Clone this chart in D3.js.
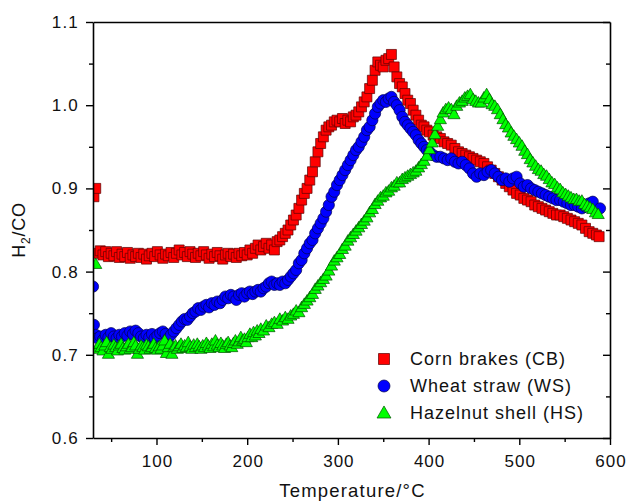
<!DOCTYPE html>
<html>
<head>
<meta charset="utf-8">
<script src="https://cdn.jsdelivr.net/npm/d3@7"></script>
<style>
  html, body { margin: 0; padding: 0; background: #fff; }
  svg { display: block; font-family: "Liberation Sans", Arial, Helvetica, sans-serif; }
</style>
</head>
<body>
<svg id="chart" width="628" height="503"></svg>
<script>
// ---- Data ----
const xTicks = [100, 200, 300, 400, 500, 600];
const yTicks = [0.6, 0.7, 0.8, 0.9, 1.0, 1.1];
const seriesNames = ["Corn brakes (CB)", "Wheat straw (WS)", "Hazelnut shell (HS)"];

const cbTemp = [31,33,35,38,41,44,47,50,53,56,59,62,65,68,71,74,77,80,83,86,89,92,95,98,101,104,107,110,113,116,119,122,125,128,131,134,137,140,143,146,149,152,155,158,161,164,167,170,173,176,179,182,185,188,191,194,197,200,203,206,209,212,215,218,221,224,227,230,233,236,239,242,245,248,251,254,257,260,263,266,269,272,275,278,281,284,287,290,293,296,299,302,305,308,311,314,317,320,323,326,329,332,335,338,341,344,347,350,353,356,359,362,365,368,371,374,377,380,383,386,389,392,395,398,401,405,409,413,417,421,425,429,433,437,441,445,449,453,457,461,465,469,473,477,481,485,489,493,497,501,505,509,513,517,521,525,529,533,537,541,545,549,553,557,561,565,569,573,577,581,585,588];
const cbVal = [0.890,0.900,0.822,0.825,0.820,0.824,0.818,0.822,0.819,0.824,0.817,0.821,0.818,0.823,0.816,0.820,0.818,0.822,0.817,0.821,0.815,0.819,0.822,0.818,0.824,0.820,0.816,0.821,0.819,0.823,0.817,0.822,0.826,0.820,0.823,0.818,0.824,0.821,0.817,0.822,0.819,0.824,0.820,0.816,0.821,0.818,0.823,0.819,0.815,0.820,0.822,0.818,0.821,0.817,0.822,0.819,0.823,0.820,0.826,0.822,0.828,0.832,0.826,0.830,0.834,0.828,0.832,0.826,0.836,0.838,0.842,0.846,0.850,0.856,0.862,0.868,0.876,0.886,0.894,0.900,0.910,0.920,0.932,0.944,0.954,0.962,0.970,0.974,0.976,0.980,0.982,0.980,0.984,0.978,0.982,0.980,0.986,0.988,0.992,0.998,1.004,1.010,1.020,1.030,1.042,1.052,1.048,1.046,1.054,1.056,1.061,1.046,1.034,1.026,1.022,1.014,1.006,1.002,0.994,0.988,0.982,0.976,0.974,0.970,0.968,0.964,0.962,0.960,0.956,0.954,0.952,0.948,0.944,0.942,0.940,0.938,0.936,0.934,0.932,0.930,0.926,0.922,0.918,0.914,0.910,0.906,0.902,0.898,0.894,0.892,0.888,0.886,0.884,0.880,0.878,0.876,0.874,0.872,0.870,0.868,0.868,0.866,0.864,0.862,0.860,0.858,0.856,0.852,0.848,0.846,0.844,0.842];

const wsTemp = [30,31,33,35,38,41,44,47,50,53,56,59,62,65,68,71,74,77,80,83,86,89,92,95,98,101,104,107,110,113,116,119,122,125,128,131,134,137,140,143,146,149,152,155,158,161,164,167,170,173,176,179,182,185,188,191,194,197,200,203,206,209,212,215,218,221,224,227,230,233,236,239,242,245,248,251,254,257,260,263,266,269,272,275,278,281,284,287,290,293,296,299,302,305,308,311,314,317,320,323,326,329,332,335,338,341,344,347,350,353,356,359,362,365,368,371,374,377,380,383,386,389,392,395,398,401,405,409,413,417,421,425,429,433,437,441,445,449,453,457,461,465,469,473,477,481,485,489,493,497,501,505,509,513,517,521,525,529,533,537,541,545,549,553,557,561,565,569,573,577,581,585,589];
const wsVal = [0.782,0.736,0.724,0.720,0.722,0.718,0.724,0.721,0.726,0.722,0.720,0.724,0.722,0.726,0.723,0.728,0.725,0.729,0.726,0.722,0.720,0.724,0.721,0.725,0.720,0.723,0.726,0.728,0.725,0.720,0.724,0.728,0.732,0.736,0.740,0.743,0.742,0.746,0.750,0.752,0.756,0.754,0.758,0.760,0.757,0.762,0.760,0.764,0.762,0.766,0.770,0.768,0.772,0.770,0.766,0.772,0.774,0.770,0.774,0.776,0.773,0.776,0.778,0.776,0.780,0.782,0.786,0.788,0.784,0.786,0.784,0.788,0.786,0.790,0.794,0.798,0.802,0.810,0.814,0.822,0.828,0.834,0.838,0.846,0.852,0.858,0.864,0.872,0.880,0.890,0.896,0.904,0.910,0.916,0.922,0.928,0.934,0.940,0.946,0.950,0.956,0.962,0.970,0.974,0.982,0.990,0.998,1.002,1.006,1.004,1.008,1.010,1.004,1.000,0.994,0.986,0.980,0.976,0.972,0.968,0.964,0.958,0.954,0.950,0.946,0.944,0.940,0.938,0.938,0.936,0.934,0.936,0.932,0.930,0.932,0.928,0.924,0.918,0.914,0.918,0.916,0.920,0.922,0.918,0.914,0.910,0.912,0.908,0.912,0.914,0.906,0.902,0.904,0.900,0.898,0.896,0.894,0.892,0.890,0.888,0.886,0.886,0.884,0.882,0.880,0.880,0.878,0.876,0.878,0.882,0.884,0.872,0.876];

const hsTemp = [33,35,37,39,41,43,45,47,49,51,53,55,57,59,61,63,65,67,69,71,73,75,77,79,81,83,85,87,89,91,93,95,97,99,101,103,105,107,109,111,113,115,117,119,121,123,125,127,129,131,133,135,137,139,141,143,145,147,149,151,153,155,157,159,161,163,165,167,169,171,173,175,177,179,181,183,185,187,189,191,193,195,197,199,201,203,205,207,209,211,213,215,218,221,224,227,230,233,236,239,242,245,248,251,254,257,260,263,266,269,272,275,278,281,284,287,290,293,296,299,302,305,308,311,314,317,320,323,326,329,332,335,338,341,344,347,350,353,356,359,362,365,368,371,374,377,380,383,386,389,392,395,398,401,404,407,410,413,416,419,422,425,428,431,434,437,440,443,446,449,452,455,458,461,464,467,470,473,476,479,482,485,488,491,494,497,500,503,506,509,512,515,518,521,524,527,530,533,536,539,542,545,548,551,554,557,560,563,566,569,572,575,578,581,584,587];
const hsVal = [0.808,0.706,0.712,0.708,0.704,0.710,0.714,0.700,0.708,0.706,0.711,0.708,0.704,0.710,0.712,0.707,0.705,0.709,0.712,0.706,0.708,0.714,0.710,0.700,0.706,0.710,0.708,0.705,0.711,0.709,0.706,0.708,0.712,0.707,0.705,0.709,0.706,0.710,0.716,0.701,0.708,0.712,0.700,0.708,0.710,0.706,0.709,0.712,0.707,0.710,0.708,0.714,0.709,0.706,0.711,0.708,0.712,0.709,0.706,0.710,0.708,0.713,0.710,0.707,0.712,0.709,0.716,0.711,0.708,0.713,0.710,0.707,0.712,0.714,0.710,0.708,0.713,0.716,0.712,0.715,0.720,0.716,0.718,0.714,0.720,0.724,0.720,0.726,0.722,0.728,0.725,0.730,0.728,0.734,0.732,0.736,0.738,0.736,0.742,0.740,0.744,0.742,0.746,0.748,0.752,0.750,0.756,0.760,0.764,0.768,0.772,0.778,0.782,0.786,0.790,0.794,0.800,0.806,0.812,0.816,0.820,0.826,0.830,0.836,0.840,0.844,0.848,0.852,0.856,0.860,0.864,0.870,0.874,0.880,0.884,0.888,0.890,0.894,0.896,0.900,0.902,0.906,0.906,0.910,0.912,0.914,0.916,0.918,0.920,0.924,0.928,0.932,0.938,0.946,0.954,0.964,0.974,0.982,0.990,0.994,0.996,0.994,0.988,0.998,1.002,1.004,1.008,1.010,1.012,1.006,1.004,1.002,1.002,1.008,1.012,1.006,1.000,0.998,0.994,0.988,0.982,0.976,0.972,0.966,0.962,0.958,0.954,0.950,0.944,0.940,0.934,0.930,0.926,0.922,0.920,0.916,0.914,0.910,0.906,0.904,0.900,0.898,0.894,0.892,0.890,0.888,0.886,0.886,0.884,0.884,0.880,0.878,0.876,0.874,0.870,0.868];

// ---- Layout ----
const svg = d3.select("#chart");
const mLeft = 93, mRight = 610, mTop = 22, mBottom = 438;
const x = d3.scaleLinear().domain([30, 600]).range([mLeft, mRight]);
const y = d3.scaleLinear().domain([0.6, 1.1]).range([mBottom, mTop]);

const fontFam = "Liberation Sans, Arial, Helvetica, sans-serif";

svg.append("defs").append("clipPath").attr("id", "plotclip")
  .append("rect").attr("x", mLeft).attr("y", mTop)
  .attr("width", mRight - mLeft).attr("height", mBottom - mTop);

// ---- Data marks ----
const plot = svg.append("g").attr("clip-path", "url(#plotclip)");

const sq = d3.symbol().type(d3.symbolSquare).size(100);
const circ = d3.symbol().type(d3.symbolCircle).size(Math.PI * 5.6 * 5.6);
const tri = d3.symbol().type(d3.symbolTriangle).size(64);

const series = [
  {temp: cbTemp, val: cbVal, sym: sq, fill: "#ff0000", stroke: "#5a0000"},
  {temp: wsTemp, val: wsVal, sym: circ, fill: "#0000ff", stroke: "#00004a"},
  {temp: hsTemp, val: hsVal, sym: tri, fill: "#00ff00", stroke: "#005000"}
];

series.forEach(s => {
  plot.append("g").selectAll("path")
    .data(s.temp.map((t, i) => [t, s.val[i]]))
    .join("path")
    .attr("d", s.sym)
    .attr("transform", d => `translate(${x(d[0])},${y(d[1])})`)
    .attr("fill", s.fill)
    .attr("stroke", s.stroke)
    .attr("stroke-width", 0.7);
});

// ---- Axes ----
const xMinor = d3.range(50, 601, 100);
const yMinor = [0.65, 0.75, 0.85, 0.95, 1.05];

const gx = svg.append("g").attr("transform", `translate(0,${mBottom})`);
gx.call(d3.axisBottom(x).tickValues(xTicks).tickSize(7).tickSizeOuter(0).tickPadding(10).tickFormat(d3.format("d")));
gx.selectAll(".tick text").attr("letter-spacing", 1).attr("dx", 0.5);
const gxm = svg.append("g").attr("transform", `translate(0,${mBottom})`);
gxm.call(d3.axisBottom(x).tickValues(xMinor).tickSize(4).tickSizeOuter(0).tickFormat(""));
gxm.select(".domain").remove();

const gy = svg.append("g").attr("transform", `translate(${mLeft},0)`);
gy.call(d3.axisLeft(y).tickValues(yTicks).tickSize(7).tickSizeOuter(0).tickPadding(7).tickFormat(d3.format(".1f")));
gy.selectAll(".tick text").attr("letter-spacing", 1.2);
const gym = svg.append("g").attr("transform", `translate(${mLeft},0)`);
gym.call(d3.axisLeft(y).tickValues(yMinor).tickSize(4).tickSizeOuter(0).tickFormat(""));
gym.select(".domain").remove();

// right axis with inward ticks
const gr = svg.append("g").attr("transform", `translate(${mRight},0)`);
gr.call(d3.axisRight(y).tickValues(yTicks).tickSize(-7).tickSizeOuter(0).tickFormat(""));
const grm = svg.append("g").attr("transform", `translate(${mRight},0)`);
grm.call(d3.axisRight(y).tickValues(yMinor).tickSize(-4).tickSizeOuter(0).tickFormat(""));
grm.select(".domain").remove();

// top axis (no ticks)
const gt = svg.append("g").attr("transform", `translate(0,${mTop})`);
gt.call(d3.axisTop(x).tickValues([]).tickSizeOuter(0));

svg.selectAll(".domain").attr("stroke", "#000").attr("stroke-width", 1.6);
svg.selectAll(".tick line").attr("stroke", "#000").attr("stroke-width", 1.4);
svg.selectAll(".tick text").attr("font-family", fontFam).attr("font-size", 17).attr("fill", "#111");

// ---- Axis titles ----
svg.append("text")
  .attr("x", (mLeft + mRight) / 2 + 1).attr("y", 497)
  .attr("text-anchor", "middle")
  .attr("font-family", fontFam).attr("font-size", 18.5).attr("letter-spacing", 1.2).attr("fill", "#111")
  .text("Temperature/°C");

const yl = svg.append("text")
  .attr("transform", `translate(25,${(mTop + mBottom) / 2}) rotate(-90)`)
  .attr("text-anchor", "middle")
  .attr("font-family", fontFam).attr("font-size", 18).attr("letter-spacing", 0.8).attr("fill", "#111");
yl.append("tspan").text("H");
yl.append("tspan").attr("font-size", 12).attr("dy", 5).text("2");
yl.append("tspan").attr("dy", -5).text("/CO");

// ---- Legend ----
const legY = [359, 386, 413];
const legSyms = [
  d3.symbol().type(d3.symbolSquare).size(121),
  d3.symbol().type(d3.symbolCircle).size(Math.PI * 6 * 6),
  d3.symbol().type(d3.symbolTriangle).size(84)
];
const leg = svg.append("g");
series.forEach((s, i) => {
  leg.append("path")
    .attr("d", legSyms[i])
    .attr("transform", `translate(384,${legY[i] + (i === 2 ? 1 : 0)})`)
    .attr("fill", s.fill).attr("stroke", s.stroke).attr("stroke-width", 0.7);
  leg.append("text")
    .attr("x", 410).attr("y", legY[i]).attr("dy", "0.35em")
    .attr("font-family", fontFam).attr("font-size", 18).attr("letter-spacing", 1).attr("fill", "#111")
    .text(seriesNames[i]);
});
</script>
</body>
</html>
